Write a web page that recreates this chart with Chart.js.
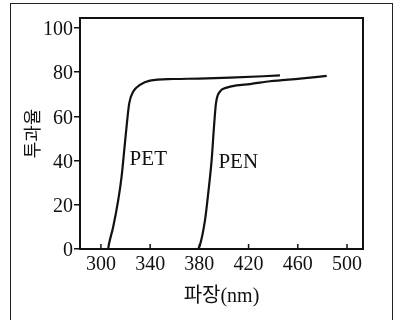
<!DOCTYPE html>
<html>
<head>
<meta charset="utf-8">
<script src="https://cdn.jsdelivr.net/npm/chart.js@4/dist/chart.umd.min.js"></script>
<style>
  html, body { margin: 0; padding: 0; background: #fff; }
  #frame { position: absolute; left: 10px; top: 3px; width: 381px; height: 330px; border: 1.5px solid #222; }
  #wrap { position: absolute; left: 0; top: 0; width: 395px; height: 320px; }
</style>
</head>
<body>
<div id="frame"></div>
<div id="wrap"><canvas id="chart" width="395" height="320"></canvas></div>
<script>
// wavelength (nm) / transmittance (%)
const petNm = [305.9, 306.4, 310.0, 314.1, 316.8, 319.5, 321.4, 323.0, 326.3, 331.7, 339.8, 358.8, 380.0, 405.0, 445.5];
const petT  = [0, 1.8, 10.1, 22.2, 32.7, 47.8, 58.4, 65.9, 71.2, 74.2, 76.2, 76.9, 77.1, 77.5, 78.5];

const penNm = [379.1, 380.5, 384.6, 387.2, 390.0, 391.9, 393.5, 396.7, 402.2, 410.0, 421.1, 437.4, 461.8, 483.5];
const penT  = [0, 1.8, 13.1, 25.2, 40.3, 55.3, 65.9, 71.2, 73.0, 74.0, 74.6, 75.9, 77.1, 78.3];

const xTicks = [300, 340, 380, 420, 460, 500];
const yTicks = [0, 20, 40, 60, 80, 100];

const curveNames = ['PET', 'PEN'];
const curveLabelX = [338.5, 411.6];
const curveLabelY = [40.3, 39.0];

const serif = "'Liberation Serif', 'Noto Sans CJK KR', serif";
const ink = '#111';

const toPoints = (xs, ys) => xs.map((x, i) => ({ x: x, y: ys[i] }));

// box around the plot, inward ticks on x, and the curve names
const decorations = {
    id: 'decorations',
    afterDraw(chart) {
        const ctx = chart.ctx;
        const a = chart.chartArea;
        const xs = chart.scales.x;
        const ys = chart.scales.y;
        ctx.save();
        ctx.strokeStyle = ink;
        ctx.lineWidth = 2;
        ctx.strokeRect(a.left, a.top, a.right - a.left, a.bottom - a.top);

        ctx.lineWidth = 1.5;
        xTicks.forEach(v => {
            const px = xs.getPixelForValue(v);
            ctx.beginPath();
            ctx.moveTo(px, a.bottom);
            ctx.lineTo(px, a.bottom - 5);
            ctx.stroke();
        });

        ctx.fillStyle = ink;
        ctx.font = '21px ' + serif;
        ctx.textAlign = 'center';
        ctx.textBaseline = 'middle';
        curveNames.forEach((name, i) => {
            ctx.fillText(name, xs.getPixelForValue(curveLabelX[i]), ys.getPixelForValue(curveLabelY[i]));
        });
        ctx.restore();
    }
};

new Chart(document.getElementById('chart').getContext('2d'), {
    type: 'line',
    data: {
        datasets: [
            { label: 'PET', data: toPoints(petNm, petT) },
            { label: 'PEN', data: toPoints(penNm, penT) }
        ].map(d => Object.assign(d, {
            borderColor: ink,
            borderWidth: 2.2,
            pointRadius: 0,
            fill: false,
            cubicInterpolationMode: 'monotone'
        }))
    },
    options: {
        responsive: false,
        animation: false,
        layout: { padding: { top: 18, right: 32, left: 0, bottom: 0 } },
        plugins: { legend: { display: false }, tooltip: { enabled: false } },
        scales: {
            x: {
                type: 'linear',
                min: 283,
                max: 513,
                afterBuildTicks: s => { s.ticks = xTicks.map(v => ({ value: v })); },
                afterFit: s => { s.height = 71; },
                grid: { drawOnChartArea: false, drawTicks: false },
                border: { display: false },
                ticks: { color: ink, font: { family: serif, size: 20 }, padding: 4, maxRotation: 0 },
                title: {
                    display: true,
                    text: '파장(nm)',
                    color: ink,
                    font: { family: serif, size: 20 },
                    padding: { bottom: 11 }
                }
            },
            y: {
                min: 0,
                max: 104.5,
                afterBuildTicks: s => { s.ticks = yTicks.map(v => ({ value: v })); },
                afterFit: s => { s.width = 80; },
                grid: { drawOnChartArea: false, drawTicks: true, tickLength: 6, color: ink, lineWidth: 1.5 },
                border: { display: false },
                ticks: { color: ink, font: { family: serif, size: 20 }, padding: 1, labelOffset: 2 },
                title: {
                    display: true,
                    text: '투과율',
                    color: ink,
                    font: { family: serif, size: 18 },
                    padding: { top: 23 }
                }
            }
        }
    },
    plugins: [decorations]
});
</script>
</body>
</html>
